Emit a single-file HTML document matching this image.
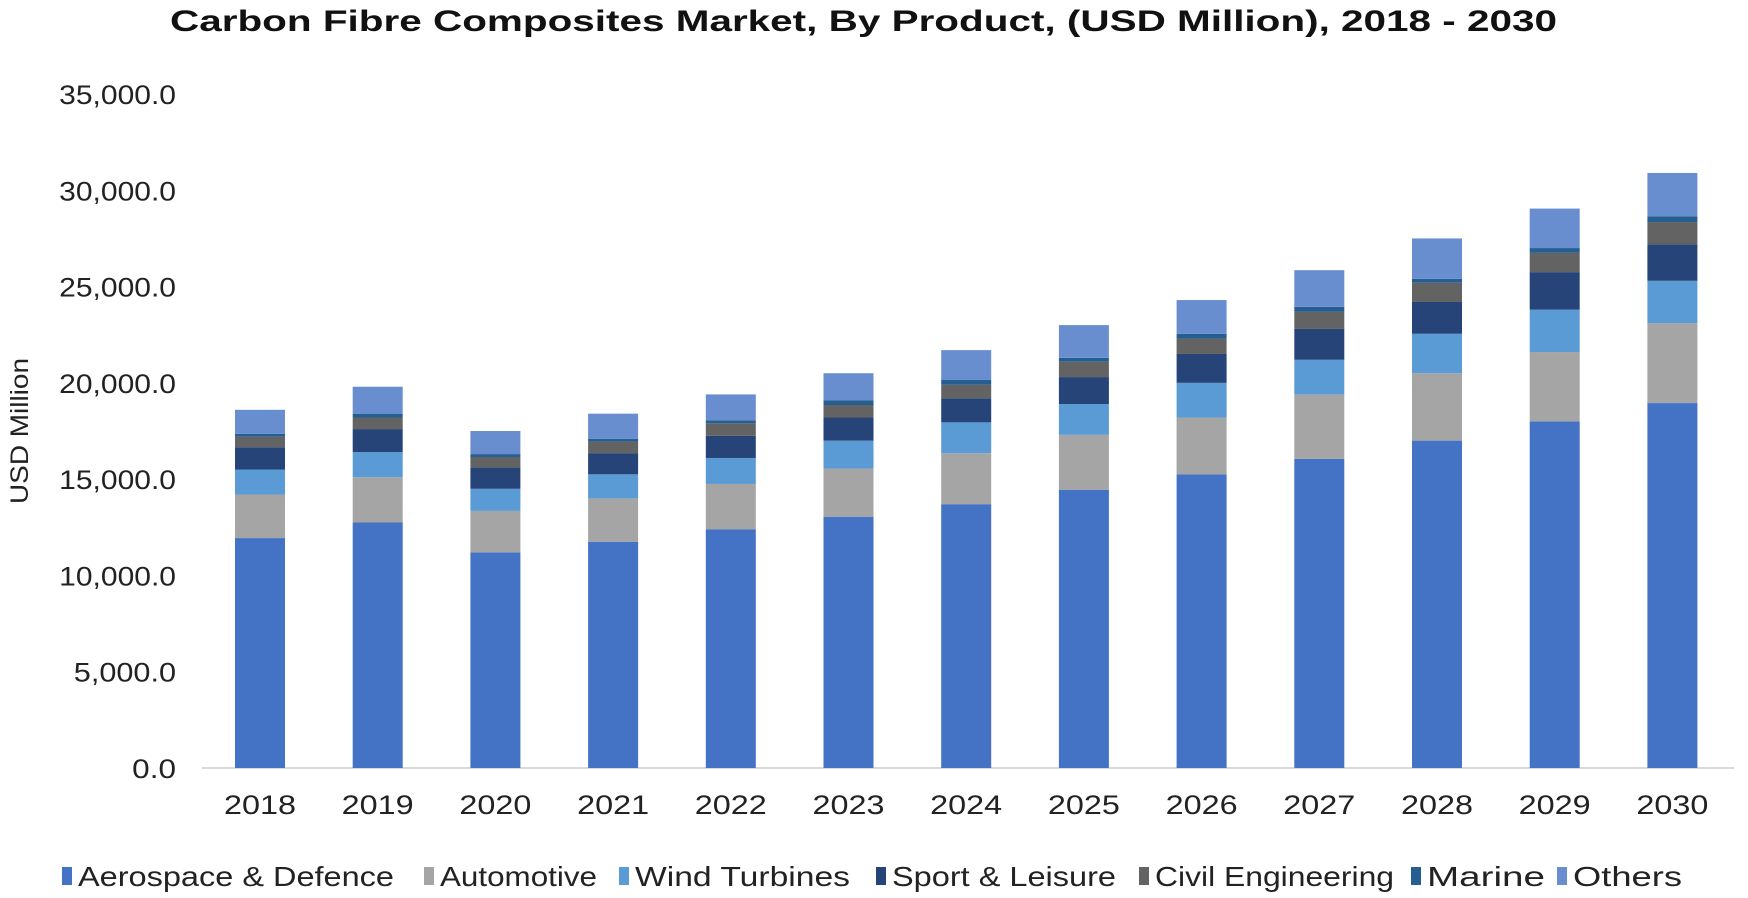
<!DOCTYPE html>
<html><head><meta charset="utf-8"><style>
html,body{margin:0;padding:0;background:#fff;}
svg{display:block;font-family:"Liberation Sans",Arial,sans-serif;}
</style></head><body>
<svg id="chart" width="1748" height="898" viewBox="0 0 1748 898">
<text x="170" y="31" font-size="30" font-weight="bold" fill="#111" textLength="1387" lengthAdjust="spacingAndGlyphs">Carbon Fibre Composites  Market, By Product, (USD Million), 2018 - 2030</text>
<text transform="translate(28,431) rotate(-90)" text-anchor="middle" font-size="25" fill="#222" textLength="146" lengthAdjust="spacingAndGlyphs">USD Million</text>
<g id="grid"></g><g id="bars"></g><g id="xlabels"></g><g id="legend"></g>
</svg>
<script>
const categories=["2018","2019","2020","2021","2022","2023","2024","2025","2026","2027","2028","2029","2030"];
const seriesNames=["Aerospace & Defence","Automotive","Wind Turbines","Sport & Leisure","Civil Engineering","Marine","Others"];
const aerospace=[11940,12750,11200,11750,12400,13050,13700,14450,15250,16050,17000,18000,18950];
const automotive=[2260,2350,2150,2250,2350,2500,2650,2850,2950,3350,3500,3600,4150];
const wind=[1300,1300,1150,1250,1350,1450,1600,1600,1800,1800,2050,2200,2200];
const sport=[1150,1200,1100,1100,1150,1200,1250,1400,1500,1600,1650,1950,1900];
const civil=[550,600,550,600,650,650,700,800,800,900,1000,1000,1150];
const marine=[150,200,150,150,150,250,250,200,250,250,200,250,300];
const others=[1250,1400,1200,1300,1350,1400,1550,1700,1750,1900,2100,2050,2250];
const yTicks=[0,5000,10000,15000,20000,25000,30000,35000];
const colors=["#4472c4","#a5a5a5","#5b9bd5","#264478","#636363","#255e91","#698ed0"];
const series=[aerospace,automotive,wind,sport,civil,marine,others];
const NS="http://www.w3.org/2000/svg";
const y0=768,yMax=35000,yTop=94,xFirst=260,xStep=117.7,barW=50;
function yScale(v){return y0-(v/yMax)*(y0-yTop);}
function xScale(i){return xFirst+i*xStep;}
function mk(t,a){const e=document.createElementNS(NS,t);for(const k in a)e.setAttribute(k,a[k]);return e;}
const grid=document.getElementById('grid');
yTicks.forEach(v=>{
 const s=v.toLocaleString('en-US',{minimumFractionDigits:1,maximumFractionDigits:1});
 const t=mk('text',{x:176,y:yScale(v)+10,'text-anchor':'end','font-size':27,fill:'#222',textLength:s.length*14.6,lengthAdjust:'spacingAndGlyphs'});
 t.textContent=s;
 
 
 grid.appendChild(t);
});
const axis=mk('line',{x1:202,x2:1734,y1:y0,y2:y0,stroke:'#d9d9d9','stroke-width':2});


grid.appendChild(axis);
const bars=document.getElementById('bars');
categories.forEach((c,i)=>{
 let cum=0;
 series.forEach((s,j)=>{
  const top=yScale(cum+s[i]),bot=yScale(cum);
  const r=mk('rect',{x:xScale(i)-barW/2,y:top,width:barW,height:bot-top,fill:colors[j]});
  
  
  bars.appendChild(r);
  cum+=s[i];
 });
 const t=mk('text',{x:xScale(i),y:814,'text-anchor':'middle','font-size':27,fill:'#222',textLength:72,lengthAdjust:'spacingAndGlyphs'});
 t.textContent=c;
 
 
 document.getElementById('xlabels').appendChild(t);
});
const legendX=[62,424,619,876,1139,1411,1557];
const legendW=[316,157,215,224,239,118,109];
const lg=document.getElementById('legend');
seriesNames.forEach((n,j)=>{
 const g=mk('g',{});
 
 
 g.appendChild(mk('rect',{x:legendX[j],y:867,width:10,height:18,fill:colors[j]}));
 const t=mk('text',{x:legendX[j]+16,y:886,'font-size':28,fill:'#222',textLength:legendW[j],lengthAdjust:'spacingAndGlyphs'});
 t.textContent=n;
 g.appendChild(t);
 lg.appendChild(g);
});
</script>
</body></html>
